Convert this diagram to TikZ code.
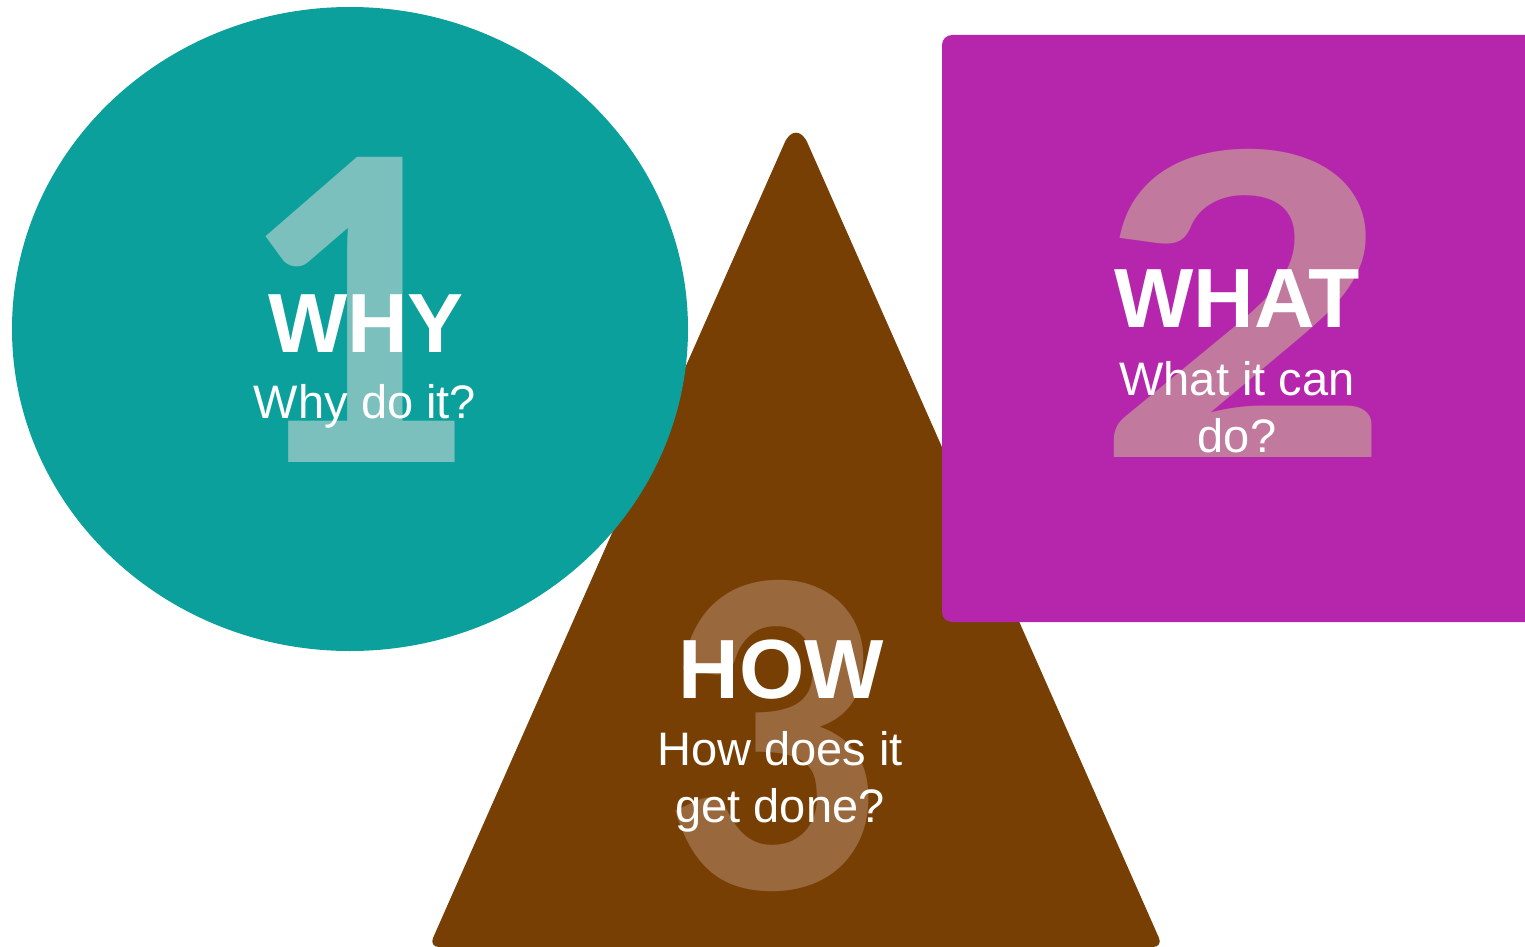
\documentclass[tikz,border=0pt]{standalone}
\usepackage{fontspec}
\usepackage{graphicx}
\setmainfont{Liberation Sans}
\newfontfamily\numfont{Carlito}
\definecolor{teal1}{HTML}{0BA09B}
\definecolor{teal2}{HTML}{7BC0BD}
\definecolor{mag1}{HTML}{B526AD}
\definecolor{mag2}{HTML}{C17A9D}
\definecolor{brn1}{HTML}{783F04}
\definecolor{brn2}{HTML}{99683D}
\tikzset{
  bignum/.style={inner sep=0pt, anchor=base, font=\numfont\bfseries\fontsize{470}{470}\selectfont},
  title/.style={inner sep=0pt, anchor=base, text=white, font=\bfseries\fontsize{84}{84}\selectfont},
  sub/.style={inner sep=0pt, anchor=base, text=white, font=\fontsize{47}{47}\selectfont},
}
\begin{document}
\begin{tikzpicture}[x=1pt,y=-1pt]
\useasboundingbox (0,0) rectangle (1525,947);
% triangle
\fill[brn1, rounded corners=10pt] (780.5,152) .. controls (790.6,129.25) and (801.4,129.25) .. (811.5,152) -- (1163,947) -- (429,947) -- cycle;
% ellipse
\fill[teal1] (350,329) ellipse [x radius=338, y radius=322];
% square
\fill[mag1, rounded corners=10pt] (942,35) rectangle (1540,622);
% numbers
\node[bignum, text=teal2] (n1) at (354,462) {1};
\node[bignum, text=mag2] (n2) at (1243,457) {\scalebox{1.25}[1]{2}};
\node[bignum, text=brn2] (n3) at (770,888) {\scalebox{0.93}[1]{3}};
% texts
\node[title] (why) at (366,352) {WHY};
\node[sub] (whys) at (365,418) {Why do it?};
\node[title] (what) at (1237,327) {WHAT};
\node[sub] (whats1) at (1237,395) {What it can};
\node[sub] (whats2) at (1237,452) {do?};
\node[title] (how) at (781,698) {HOW};
\node[sub] (hows1) at (780,765) {How does it};
\node[sub] (hows2) at (780,822) {get done?};
\end{tikzpicture}
\end{document}
